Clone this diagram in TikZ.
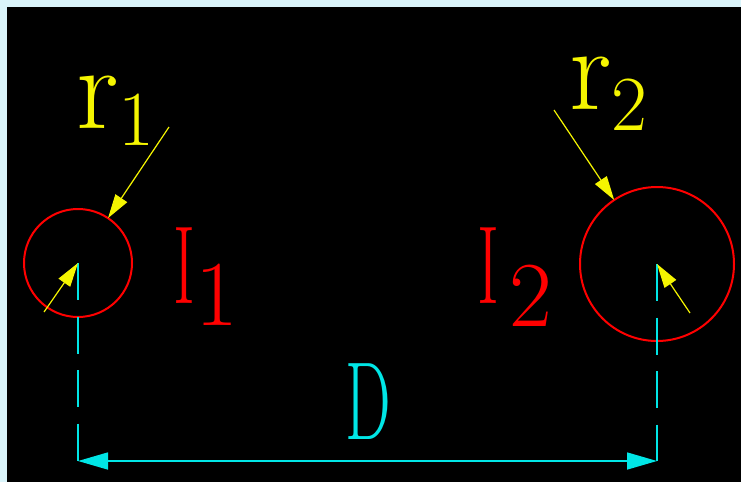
\documentclass[tikz,border=0pt]{standalone}
\usepackage{fontspec}
\usetikzlibrary{arrows.meta}
\definecolor{cadbg}{RGB}{218,244,250}
\definecolor{cadred}{RGB}{255,0,0}
\definecolor{cadyellow}{RGB}{245,245,0}
\definecolor{cadcyan}{RGB}{0,230,230}

\begin{document}
\begin{tikzpicture}[x=1pt, y=-1pt,
  ring/.style={circle, draw=cadred, line width=2pt, inner sep=0pt, outer sep=0pt},
  ptr/.style={cadyellow, line width=1.2pt, -{Triangle[length=24pt,width=14pt]}},
  dimline/.style={cadcyan, line width=1.6pt},
  lbl/.style={anchor=base west, inner sep=0pt}]

  % ***************** FRAME *****************
  \fill[cadbg] (0,0) rectangle (741,482);
  \fill[black] (7,7) rectangle (741,482);

  % ***************** RINGS *****************
  \node[ring, minimum size=108pt] (ringone) at (78,263) {};
  \node[ring, minimum size=154pt] (ringtwo) at (657,264) {};

  % ***************** DIMENSION *****************
  \coordinate (dimone) at (78,461);
  \coordinate (dimtwo) at (657,461);
  \draw[dimline, dash pattern=on 37pt off 16.5pt] (ringone.center) -- (dimone);
  \draw[dimline, dash pattern=on 37pt off 16.5pt] (ringtwo.center) -- (dimtwo);
  \draw[dimline, {Triangle[length=30pt,width=17pt]}-{Triangle[length=30pt,width=17pt]}] (dimone) -- (dimtwo);
  \node[anchor=base, inner sep=0pt, text=cadcyan, font=\fontsize{111}{111}\selectfont] (dist) at (368,439) {\scalebox{0.58}[1]{D}};

  % ***************** POINTERS *****************
  \coordinate (tailone) at (169,127);
  \coordinate (tailtwo) at (554,110);
  \coordinate (footone) at (44,312);
  \coordinate (foottwo) at (690,313);
  \draw[ptr] (tailone) -- (ringone);
  \draw[ptr] (tailtwo) -- (ringtwo);
  \draw[ptr] (footone) -- (ringone.center);
  \draw[ptr] (foottwo) -- (ringtwo.center);

  % ***************** LABELS *****************
  \node[lbl, text=cadyellow] (rone) at (76,128) {\fontsize{120}{120}\selectfont r\raisebox{-17pt}{\fontsize{78}{78}\selectfont 1}};
  \node[lbl, text=cadyellow] (rtwo) at (569,109) {\fontsize{120}{120}\selectfont r\raisebox{-21pt}{\fontsize{78}{78}\selectfont 2}};
  \node[lbl, text=cadred] (ione) at (173,303) {\fontsize{111}{111}\selectfont\scalebox{0.6}[1]{I}\raisebox{-22pt}{\fontsize{93}{93}\selectfont 1}};
  \node[lbl, text=cadred] (itwo) at (477,303) {\fontsize{111}{111}\selectfont\scalebox{0.6}[1]{I}\hspace{10pt}\raisebox{-23pt}{\fontsize{93}{93}\selectfont 2}};

\end{tikzpicture}
\end{document}
